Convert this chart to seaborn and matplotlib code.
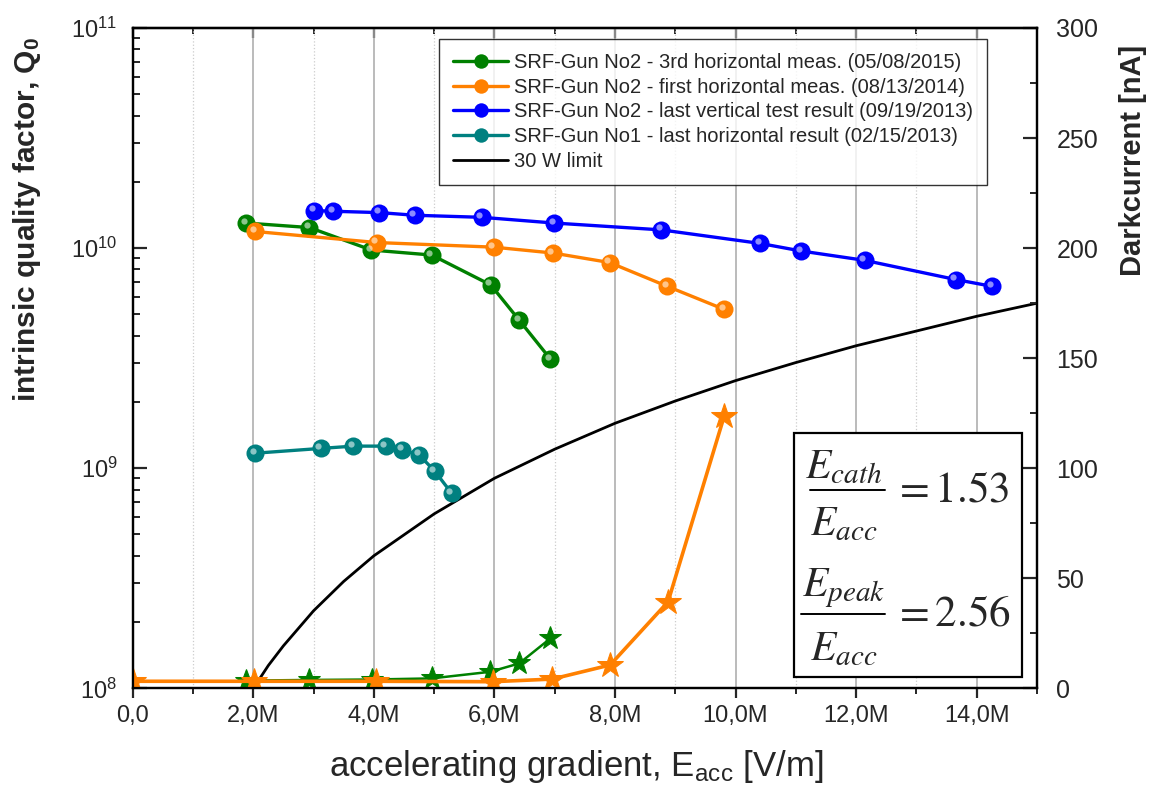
import numpy as np
import pandas as pd
import seaborn as sns
import matplotlib
matplotlib.use('Agg')
import matplotlib.pyplot as plt
from matplotlib import ticker, transforms, font_manager
from matplotlib.patches import Rectangle

# Q0 vs Eacc (MV/m)
e_gun2_2015 = [1.88, 2.93, 3.96, 4.96, 5.94, 6.41, 6.93]
q_gun2_2015 = [1.30e10, 1.24e10, 9.8e9, 9.3e9, 6.8e9, 4.71e9, 3.13e9]

e_gun2_2014 = [2.03, 4.05, 5.99, 6.97, 7.91, 8.87, 9.81]
q_gun2_2014 = [1.19e10, 1.06e10, 1.01e10, 9.5e9, 8.6e9, 6.7e9, 5.27e9]

e_gun2_2013 = [3.01, 3.33, 4.09, 4.68, 5.79, 6.99, 8.77, 10.41, 11.09, 12.14, 13.65, 14.26]
q_gun2_2013 = [1.48e10, 1.47e10, 1.45e10, 1.41e10, 1.38e10, 1.30e10, 1.21e10,
               1.05e10, 9.7e9, 8.8e9, 7.2e9, 6.7e9]

e_gun1_2013 = [2.03, 3.12, 3.66, 4.20, 4.47, 4.75, 5.01, 5.29]
q_gun1_2013 = [1.17e9, 1.23e9, 1.26e9, 1.26e9, 1.21e9, 1.15e9, 9.7e8, 7.7e8]

# 30 W limit
e_limit = [2.0, 2.1, 2.25, 2.5, 3.0, 3.5, 4.0, 5.0, 6.0, 7.0, 8.0, 9.0,
           10.0, 11.0, 12.0, 13.0, 14.0, 15.0]
q_limit = [1.0e8, 1.1e8, 1.27e8, 1.56e8, 2.25e8, 3.06e8, 4.0e8, 6.2e8, 9.0e8,
           1.22e9, 1.6e9, 2.02e9, 2.5e9, 3.02e9, 3.6e9, 4.2e9, 4.9e9, 5.62e9]

# darkcurrent (nA)
e_dc_2015 = [1.88, 2.93, 3.97, 4.96, 5.93, 6.41, 6.93]
dc_2015 = [3.5, 3.8, 4.0, 4.5, 7.5, 11.3, 22.7]
e_dc_2014 = [0.0, 2.02, 4.03, 5.97, 6.96, 7.92, 8.88, 9.81]
dc_2014 = [3.2, 3.2, 3.2, 3.0, 4.2, 10.6, 39.3, 123.5]

labels = ['SRF-Gun No2 - 3rd horizontal meas. (05/08/2015)',
          'SRF-Gun No2 - first horizontal meas. (08/13/2014)',
          'SRF-Gun No2 - last vertical test result (09/19/2013)',
          'SRF-Gun No1 - last horizontal result (02/15/2013)',
          '30 W limit']
colors = ['#008000', '#ff8000', '#0000ff', '#008080']

sns.set_theme(style='ticks')
plt.rcParams['font.family'] = ['Liberation Sans', 'DejaVu Sans']
plt.rcParams['mathtext.fontset'] = 'custom'
plt.rcParams['mathtext.rm'] = 'Liberation Sans'
plt.rcParams['mathtext.it'] = 'Liberation Sans:italic'
plt.rcParams['mathtext.bf'] = 'Liberation Sans:bold'

installed = {f.name for f in font_manager.fontManager.ttflist}
narrow = 'Liberation Sans Narrow' if 'Liberation Sans Narrow' in installed else 'Liberation Sans'

fig = plt.figure(figsize=(11.55, 8), dpi=100)
ax = fig.add_axes([0.1149, 0.1396, 0.7829, 0.8254])
ax2 = ax.twinx()

series = [(e_gun2_2015, q_gun2_2015), (e_gun2_2014, q_gun2_2014),
          (e_gun2_2013, q_gun2_2013), (e_gun1_2013, q_gun1_2013)]
for (x, y), c, lab in zip(series, colors, labels):
    sns.lineplot(x=x, y=y, ax=ax, color=c, lw=2.4, marker='o', markersize=13,
                 markeredgecolor=c, markeredgewidth=0, label=lab, zorder=3)
sns.lineplot(x=e_limit, y=q_limit, ax=ax, color='black', lw=2, label=labels[4], zorder=2)

handles, labs = ax.get_legend_handles_labels()

# small highlight to give the balls a shaded look
shine = transforms.offset_copy(ax.transData, fig=fig, x=-1.8, y=1.8, units='points')
for (x, y), c in zip(series, colors):
    ax.plot(x, y, ls='none', marker='o', markersize=4.5, color='white', alpha=0.55,
            markeredgewidth=0, transform=shine, zorder=4)

sns.lineplot(x=e_dc_2015, y=dc_2015, ax=ax2, color=colors[0], lw=1.8, marker='*',
             markersize=17, markeredgecolor=colors[0], legend=False)
sns.lineplot(x=e_dc_2014, y=dc_2014, ax=ax2, color=colors[1], lw=2.6, marker='*',
             markersize=19, markeredgecolor=colors[1], legend=False)

ax.set_yscale('log')
ax.set_ylim(1e8, 1e11)
ax.set_xlim(0, 15)
ax2.set_ylim(0, 300)

ax.xaxis.set_major_locator(ticker.MultipleLocator(2))
ax.xaxis.set_minor_locator(ticker.MultipleLocator(1))
ax.xaxis.set_major_formatter(ticker.FuncFormatter(
    lambda v, p: '0,0' if v == 0 else f'{v:.1f}M'.replace('.', ',')))
ax.yaxis.set_major_locator(ticker.LogLocator(base=10, numticks=10))
ax.yaxis.set_major_formatter(ticker.LogFormatterMathtext())
ax.yaxis.set_minor_locator(ticker.LogLocator(base=10, subs=np.arange(2, 10), numticks=20))
ax.yaxis.set_minor_formatter(ticker.NullFormatter())
ax2.yaxis.set_major_locator(ticker.MultipleLocator(50))
ax2.yaxis.set_minor_locator(ticker.MultipleLocator(25))

ax.grid(axis='x', which='major', color='#a8a8a8', lw=1.1, ls='-')
ax.grid(axis='x', which='minor', color='#cccccc', lw=0.9, ls=':')
ax.set_axisbelow(True)

for a in (ax, ax2):
    for s in a.spines.values():
        s.set_linewidth(1.6)
        s.set_color('black')
        s.set_visible(True)

ax.tick_params(axis='x', which='major', direction='out', length=7, width=1.6,
               labelsize=17, pad=5)
ax.tick_params(axis='x', which='minor', direction='out', length=4, width=1.4)
ax.tick_params(axis='y', which='major', direction='in', length=10, width=1.6,
               labelsize=17, pad=11, left=True, right=False)
ax.tick_params(axis='y', which='minor', direction='in', length=5, width=1.4,
               left=True, right=False)
ax2.tick_params(axis='y', which='major', direction='in', length=10, width=1.6,
                labelsize=18, pad=14)
ax2.tick_params(axis='y', which='minor', direction='in', length=5, width=1.4)
for t in ax.get_xticklabels():
    t.set_family(narrow)

top = ax.secondary_xaxis('top')
top.xaxis.set_major_locator(ticker.MultipleLocator(2))
top.xaxis.set_minor_locator(ticker.MultipleLocator(1))
top.tick_params(which='major', direction='in', length=7, width=1.6, labeltop=False)
top.tick_params(which='minor', direction='in', length=4, width=1.4)
top.spines['top'].set_linewidth(1.6)

ax.set_xlabel(r'accelerating gradient, E$_{\mathrm{acc}}$ [V/m]', fontsize=25,
              family=narrow)
ax.xaxis.set_label_coords(0.490, -0.090)
ax.set_ylabel(r'intrinsic quality factor, Q$_\mathbf{0}$', fontsize=21.5,
              fontweight='bold')
ax.yaxis.set_label_coords(-0.099, 0.71)
ax2.set_ylabel('Darkcurrent [nA]', fontsize=21, fontweight='bold')
ax2.yaxis.set_label_coords(1.091, 0.80)

leg = ax.legend(handles, labs, loc='upper right', bbox_to_anchor=(0.9447, 0.9833),
                borderaxespad=0, fontsize=14.5, frameon=True, fancybox=False,
                edgecolor='black', handlelength=2.7, markerscale=0.8, borderpad=0.7,
                labelspacing=0.28, handletextpad=0.3)
leg.get_frame().set_linewidth(1.0)
leg.set_zorder(10)

# ratio box
ax2.add_patch(Rectangle((0.731, 0.017), 0.252, 0.369, transform=ax2.transAxes,
                        facecolor='white', edgecolor='black', lw=1.6, zorder=5))
fracs = [(r'$E_{cath}$', r'$E_{acc}$', r'$=1.53$', 0.3351, 0.3003, 0.2488, 0.749),
         (r'$E_{peak}$', r'$E_{acc}$', r'$= 2.56$', 0.1519, 0.1125, 0.0595, 0.739)]
for num, den, val, yn, yb, yd, xb in fracs:
    ax2.text(0.7865, yn, num, transform=ax2.transAxes, fontsize=30,
             math_fontfamily='stix', ha='center', va='center', zorder=6)
    ax2.text(0.7865, yd, den, transform=ax2.transAxes, fontsize=30,
             math_fontfamily='stix', ha='center', va='center', zorder=6)
    ax2.plot([xb, 0.832], [yb, yb], transform=ax2.transAxes, color='black',
             lw=1.4, zorder=6)
    ax2.text(0.8405, yb, val, transform=ax2.transAxes, fontsize=31,
             math_fontfamily='stix', ha='left', va='center', zorder=6)

fig.savefig('out.png', dpi=100)
